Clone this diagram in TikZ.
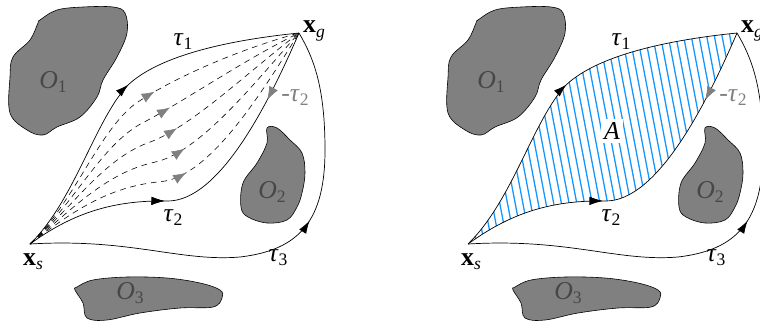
\documentclass[tikz,border=0pt]{standalone}
\usepackage{fontspec}
\setmainfont{Liberation Serif}
\usepackage{tikz}
\usetikzlibrary{arrows.meta,calc,decorations.markings}
\definecolor{obst}{RGB}{128,128,128}
\definecolor{hatchblue}{RGB}{20,150,255}

% symbol with a lowered index, Times-like
\newcommand{\idx}[2]{#1\raisebox{-0.35ex}{\fontsize{15}{15}\selectfont #2}}

% start, goal and control points of tau_1 (a) and tau_2 (b)
\newcommand{\worldpoints}{%
  \coordinate (xs) at (30,244);
  \coordinate (xg) at (299,33);
  \coordinate (a1) at (75,200);  \coordinate (b1) at (70,215);
  \coordinate (a2) at (95,120);  \coordinate (b2) at (110,200);
  \coordinate (am) at (128,85);  \coordinate (bm) at (167,201);
  \coordinate (a3) at (160,55);  \coordinate (b3) at (220,202);
  \coordinate (a4) at (230,40);  \coordinate (b4) at (270,100);
}

% obstacles and the three trajectories, same in both panels
\newcommand{\worldmap}{%
  \draw[obstacle] plot[smooth cycle, tension=0.6] coordinates {(40,20) (57,10) (83,7) (113,7)
    (125,13) (127,33) (117,57) (103,80) (97,97) (80,117) (57,127) (43,135) (27,130) (10,113)
    (10,77) (13,57) (30,40) (38,23)};
  \draw[obstacle] plot[smooth cycle, tension=0.6] coordinates {(267,128) (277,128) (290,140)
    (302,153) (305,173) (302,193) (297,207) (287,220) (267,223) (248,217) (241,207) (243,183)
    (257,163) (267,143)};
  \draw[obstacle] plot[smooth cycle, tension=0.6] coordinates {(77,287) (93,280) (127,277)
    (167,278) (200,283) (220,290) (222,298) (213,307) (180,308) (140,313) (107,320) (87,318)
    (83,303) (75,290)};
  \node[olab] (o1) at (53,82)  {\idx{\textit{O}}{1}};
  \node[olab] (o2) at (272,192) {\idx{\textit{O}}{2}};
  \node[olab] (o3) at (130,293) {\idx{\textit{O}}{3}};
  % tau_1
  \draw[traj, marrow=0.51] (xs) .. controls (a1) and (a2) .. (am)
    .. controls (a3) and (a4) .. (xg);
  % tau_2, with the reversed grey tip
  \draw[traj, marrow=0.39, grevarrow=0.8] (xs) .. controls (b1) and (b2) .. (bm)
    .. controls (b3) and (b4) .. (xg);
  % tau_3
  \draw[traj, marrow=0.6] (xs) .. controls (130,238) and (180,262) .. (240,257)
    .. controls (300,250) and (325,220) .. (325,150)
    .. controls (325,90) and (315,60) .. (xg);
  \node[lab] (ls) at (33,262) {\idx{\textbf{x}}{\textit{s}}};
  \node[lab] (lg) at (314,31) {\idx{\textbf{x}}{\textit{g}}};
  \node[lab] (t1) at (183,42) {\idx{\textit{τ}}{1}};
  \node[lab] (t2) at (173,218) {\idx{\textit{τ}}{2}};
  \node[lab] (t3) at (278,258) {\idx{\textit{τ}}{3}};
  \node[lab, text=obst] (mt2) at (295,98) {-\idx{\textit{τ}}{2}};
}

\begin{document}
\begin{tikzpicture}[x=0.03cm, y=-0.03cm,
  obstacle/.style={draw=black, fill=obst, line width=0.5pt},
  lab/.style={font=\fontsize{22}{24}\selectfont, inner sep=0pt},
  olab/.style={lab, text=black!72},
  traj/.style={line width=0.6pt},
  ghost/.style={line width=0.5pt, dash pattern=on 5pt off 4pt},
  hatch/.style={draw=hatchblue, line width=1.1pt},
  marrow/.style={postaction={decorate}, decoration={markings,
      mark=at position #1 with {\arrow{Latex[length=11pt,width=7pt]}}}},
  garrow/.style={postaction={decorate}, decoration={markings,
      mark=at position #1 with {\arrow[obst]{Latex[length=11pt,width=8.5pt]}}}},
  grevarrow/.style={postaction={decorate}, decoration={markings,
      mark=at position #1 with {\arrowreversed[obst]{Latex[length=11pt,width=8pt]}}}},
]
\useasboundingbox (0,0) rectangle (760,326);
\clip (0,0) rectangle (760,326);

% left: family of paths deformed from tau_1 to tau_2
\begin{scope}
  \worldpoints
  \worldmap
  \foreach \k/\p [evaluate=\k as \t using \k/6] in {1/0.56,2/0.57,3/0.55,4/0.53,5/0.49}
    \draw[ghost, garrow=\p] (xs) .. controls ($(a1)!\t!(b1)$) and ($(a2)!\t!(b2)$)
      .. ($(am)!\t!(bm)$) .. controls ($(a3)!\t!(b3)$) and ($(a4)!\t!(b4)$) .. (xg);
\end{scope}

% right: the area A between tau_1 and tau_2
\begin{scope}[xshift=13.14cm]
  \worldpoints
  \begin{scope}
    \clip (xs) .. controls (a1) and (a2) .. (am) .. controls (a3) and (a4) .. (xg)
      .. controls (b4) and (b3) .. (bm) .. controls (b2) and (b1) .. (xs) -- cycle;
    \foreach \i in {-10,...,42}
      \draw[hatch] (\i*7.7,0) -- ++(62,326);
  \end{scope}
  \worldmap
  \node[lab, fill=white, inner sep=3pt] (area) at (174,131) {\textit{A}};
\end{scope}
\end{tikzpicture}
\end{document}
